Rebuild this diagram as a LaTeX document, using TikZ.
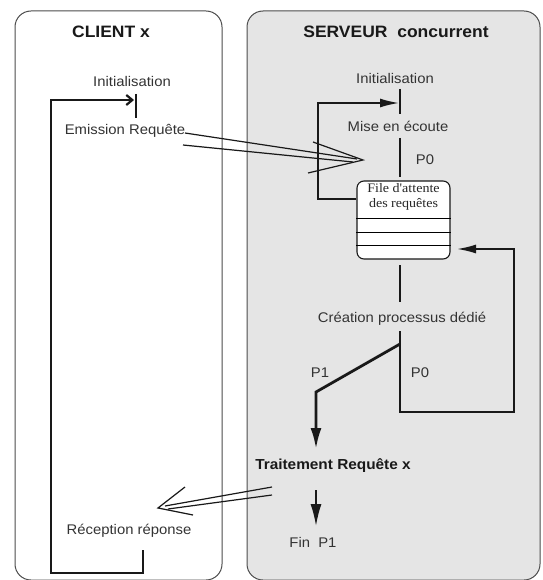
\documentclass[tikz,border=0pt]{standalone}
\usepackage{fontspec}
\setmainfont{Liberation Sans}[FakeStretch=1.06]
\newfontfamily\qserif{Liberation Serif}[FakeStretch=1.08]
\usetikzlibrary{arrows.meta}
\begin{document}
\begin{tikzpicture}[x=1pt,y=-1pt,
  lbl/.style={font=\fontsize{14}{15}\selectfont, inner sep=0pt, text=black!80},
  blbl/.style={font=\fontsize{14.5}{15}\selectfont\bfseries, inner sep=0pt, text=black!90},
  ttl/.style={font=\fontsize{16.5}{18}\selectfont\bfseries, inner sep=0pt, text=black!90},
  panel/.style={draw=black!70, line width=1pt, rounded corners=16pt},
  conn/.style={line width=1.7pt, draw=black!90},
  tipa/.style={-{Latex[length=19pt,width=9pt]}},
  tipc/.style={-{Straight Barb[length=6pt,width=10pt,line width=2.2pt]}},
  thin2/.style={line width=1.2pt, draw=black!90}]
\useasboundingbox (0,0) rectangle (542,580);
% panels
\draw[panel, fill=white] (15,11) rectangle (222,580);
\draw[panel, fill=black!10] (247,11) rectangle (540,580);
% titles
\node[ttl] (client) at (111,32) {CLIENT x};
\node[ttl] (serveur) at (396,32) {SERVEUR\ \ concurrent};
% client labels
\node[lbl] (cinit) at (132,81) {Initialisation};
\node[lbl] (emis) at (125,131) {Emission Requête};
\node[lbl] (recep) at (129,531) {Réception réponse};
% server labels
\node[lbl] (sinit) at (395,78) {Initialisation};
\node[lbl] (ecoute) at (398,126) {Mise en écoute};
\node[lbl] (p0a) at (425,160) {P0};
\node[lbl] (creation) at (402,319) {Création processus dédié};
\node[lbl] (p1) at (320,373) {P1};
\node[lbl] (p0b) at (420,373) {P0};
\node[blbl] (trait) at (333,466) {Traitement Requête x};
\node[lbl] (fin) at (313,542) {Fin\ \ P1};
% queue box
\node[draw=black!90, line width=1.1pt, rounded corners=7pt, fill=white,
      minimum width=93pt, minimum height=78pt, inner sep=0pt] (queue) at (403.5,220) {};
\node[font=\qserif\fontsize{13}{15}\selectfont, align=center, inner sep=0pt, text=black!85,
      anchor=north] (qtext) at (403.5,183) {File d'attente\\des requêtes};
\foreach \yy in {218,232,245}
  \draw[line width=1pt] (queue.west |- 0,\yy) -- (queue.east |- 0,\yy);
% client bar and loop
\coordinate (cbt) at (136,94);
\coordinate (cbb) at (136,118);
\draw[conn] (cbt) -- (cbb);
\coordinate (r1) at (143,550);
\coordinate (r2) at (143,573);
\coordinate (r3) at (51,573);
\coordinate (r4) at (51,100);
\coordinate (r5) at (134,100);
\draw[conn, tipc] (r1) -- (r2) -- (r3) -- (r4) -- (r5);
% server init bar
\coordinate (sbt) at (400,89);
\coordinate (sbb) at (400,114);
\draw[conn] (sbt) -- (sbb);
\coordinate (l1) at (400,138);
\coordinate (l2) at (400,177);
\draw[conn] (l1) -- (l2);
% server top loop
\coordinate (s1) at (queue.west |- 0,199);
\coordinate (s2) at (318,199);
\coordinate (s3) at (318,103);
\coordinate (s4) at (399,103);
\draw[conn, tipa] (s1) -- (s2) -- (s3) -- (s4);
% queue to creation
\coordinate (q1) at (400,265);
\coordinate (q2) at (400,302);
\draw[conn] (q1) -- (q2);
% P0 loop back
\coordinate (c1) at (400,331);
\coordinate (c2) at (400,412);
\coordinate (c3) at (514,412);
\coordinate (c4) at (514,249);
\coordinate (c5) at (457,249);
\draw[conn, tipa] (c1) -- (c2) -- (c3) -- (c4) -- (c5);
% P1 branch
\coordinate (d1) at (400,344);
\coordinate (d2) at (316,392);
\coordinate (d3) at (316,449);
\draw[line width=2.8pt, draw=black!90, line join=miter, {-Latex[length=21pt,width=11pt]}] (d1) -- (d2) -- (d3);
% fin arrow
\coordinate (f1) at (316,490);
\coordinate (f2) at (316,526);
\draw[conn, -{Latex[length=22pt,width=11pt]}] (f1) -- (f2);
% request double arrow
\coordinate (a1u) at (185,133);
\coordinate (a1l) at (183,145);
\coordinate (a1t) at (363,160);
\coordinate (a1bu) at (313,142);
\coordinate (a1bl) at (308,173);
\coordinate (a1eu) at (357,159);
\coordinate (a1el) at (353,162);
\draw[thin2] (a1u) -- (a1eu);
\draw[thin2] (a1l) -- (a1el);
\draw[thin2] (a1bu) -- (a1t) -- (a1bl);
% response double arrow
\coordinate (a2u) at (272,487);
\coordinate (a2l) at (272,495);
\coordinate (a2t) at (158,508);
\coordinate (a2bu) at (185,487);
\coordinate (a2bl) at (193,515);
\coordinate (a2eu) at (165,506);
\coordinate (a2el) at (168,509);
\draw[thin2] (a2u) -- (a2eu);
\draw[thin2] (a2l) -- (a2el);
\draw[thin2] (a2bu) -- (a2t) -- (a2bl);
\end{tikzpicture}
\end{document}
